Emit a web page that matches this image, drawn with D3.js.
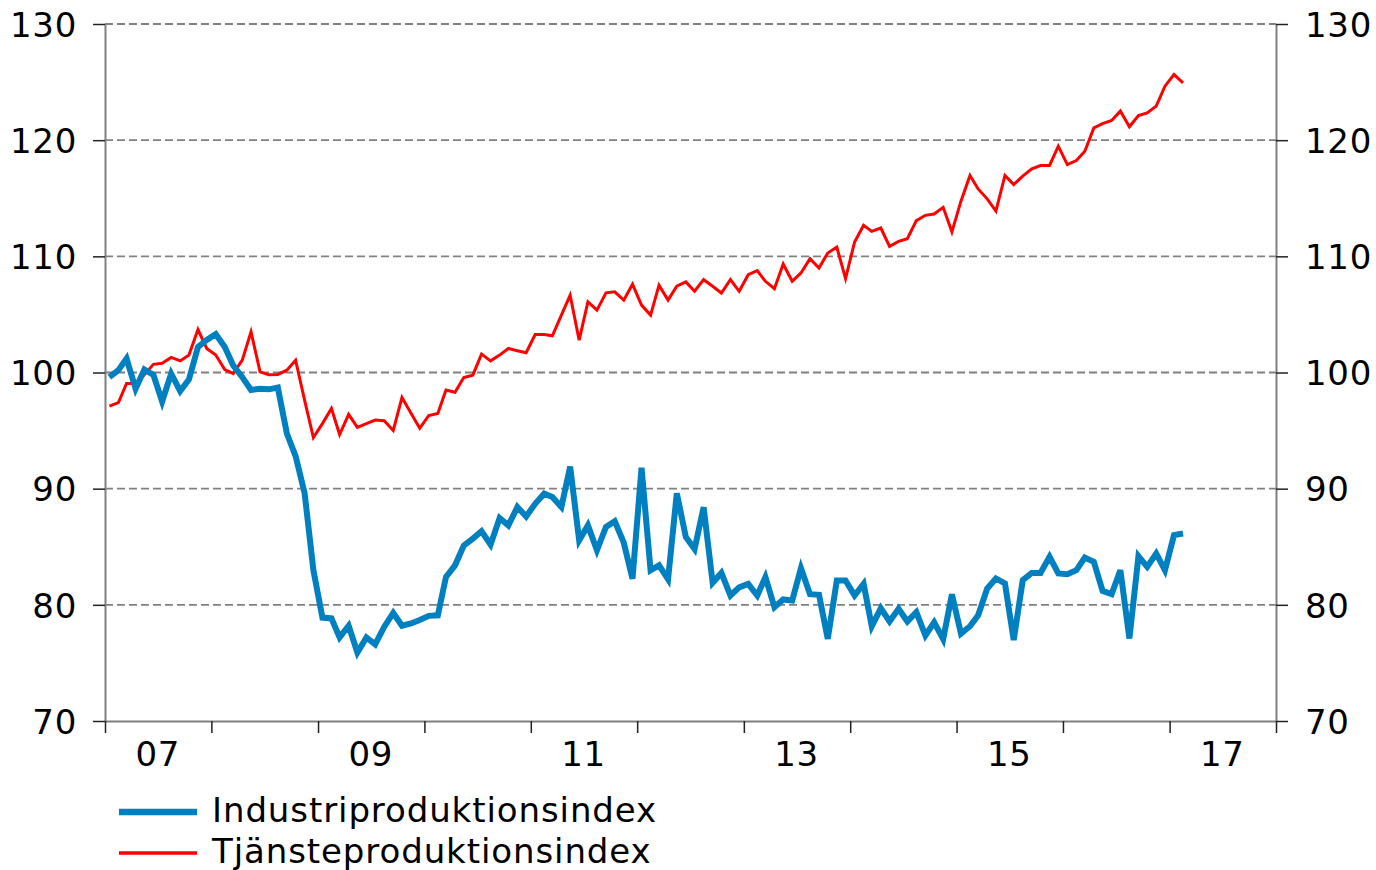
<!DOCTYPE html>
<html>
<head>
<meta charset="utf-8">
<script src="https://cdn.jsdelivr.net/npm/d3@7"></script>
<style>
  body { margin: 0; background: #fff; }
  svg { display: block; font-family: Verdana, "DejaVu Sans", sans-serif; }
</style>
</head>
<body>
<div id="chart"></div>
<script>
// monthly index values, Jan 2007 - Feb 2017
const industri = [
  99.6, 100.2, 101.2, 98.6, 100.26, 99.8, 97.5, 99.9, 98.4, 99.4, 102.2, 102.8,
  103.3, 102.2, 100.6, 99.6, 98.5, 98.6, 98.55, 98.7, 94.75, 92.8, 89.6, 83.0,
  78.9, 78.83, 77.2, 78.2, 75.9, 77.2, 76.6, 78.1, 79.3, 78.2, 78.4, 78.7,
  79.05, 79.1, 82.4, 83.4, 85.1, 85.7, 86.33, 85.18, 87.47, 86.84, 88.42, 87.6,
  88.7, 89.57, 89.28, 88.42, 91.9, 85.55, 86.84, 84.7, 86.7, 87.2, 85.35, 82.25,
  91.8, 82.97, 83.4, 82.2, 89.6, 85.84, 84.8, 88.4, 81.9, 82.75, 80.8, 81.5,
  81.8, 80.8, 82.38, 79.8, 80.46, 80.37, 83.16, 80.92, 80.86, 77.07, 82.1, 82.1,
  80.8, 81.8, 78.16, 79.7, 78.57, 79.66, 78.57, 79.37, 77.36, 78.5, 77.05, 80.9,
  77.53, 78.16, 79.1, 81.4, 82.27, 81.84, 76.96, 82.12, 82.75, 82.75, 84.13, 82.7,
  82.64, 82.98, 84.07, 83.7, 81.2, 80.92, 82.98, 77.1, 84.19, 83.27, 84.42, 82.98,
  86.0, 86.14
];
const tjanste = [
  97.1, 97.4, 99.05, 99.05, 99.8, 100.7, 100.8, 101.3, 101.0, 101.5, 103.7, 102.07,
  101.5, 100.26, 99.9, 101.06, 103.5, 100.06, 99.8, 99.83, 100.2, 101.06, 97.6, 94.4,
  95.6, 96.9, 94.66, 96.4, 95.27, 95.6, 95.9, 95.84, 95.0, 97.85, 96.5, 95.2,
  96.3, 96.47, 98.5, 98.3, 99.57, 99.77, 101.58, 101.0, 101.5, 102.07, 101.87, 101.7,
  103.27, 103.27, 103.16, 104.94, 106.66, 102.78, 106.08, 105.37, 106.86, 106.94, 106.23, 107.6,
  105.8, 104.94, 107.52, 106.23, 107.43, 107.8, 107.0, 107.99, 107.42, 106.84, 107.99, 106.99,
  108.42, 108.77, 107.85, 107.22, 109.34, 107.85, 108.57, 109.8, 109.0, 110.29, 110.8, 108.08,
  111.23, 112.67, 112.15, 112.44, 110.86, 111.29, 111.52, 113.07, 113.53, 113.64, 114.22, 112.1,
  114.75, 116.96, 115.8, 114.95, 113.9, 116.96, 116.18, 116.9, 117.53, 117.82, 117.82, 119.48,
  117.9, 118.25, 119.05, 121.06, 121.43, 121.69, 122.5, 121.15, 122.12, 122.35, 122.93, 124.65,
  125.65, 124.94
];
const months = d3.range(industri.length).map(i => new Date(2007, i, 16));
const yTicks = [70, 80, 90, 100, 110, 120, 130];
const gridTicks = [80, 90, 100, 110, 120, 130];
const yearLabels = ["07", "09", "11", "13", "15", "17"];
const seriesNames = ["Industriproduktionsindex", "Tjänsteproduktionsindex"];
const seriesColors = ["#0080c0", "#ff0000"];

const width = 1376,
    height = 870,
    plotLeft = 105,
    plotRight = 1276,
    plotTop = 24,
    plotBottom = 721;

const x = d3.scaleTime()
    .domain([new Date(2007, 0, 1), new Date(2018, 0, 1)])
    .range([plotLeft, plotRight]);
const y = d3.scaleLinear().domain([70, 130]).range([plotBottom, plotTop]);

const svg = d3.select("#chart")
    .append("svg")
    .attr("width", width)
    .attr("height", height);

// dashed gridlines
svg.append("g")
    .selectAll("line")
    .data(gridTicks)
    .join("line")
    .attr("x1", plotLeft)
    .attr("x2", plotRight)
    .attr("y1", d => y(d))
    .attr("y2", d => y(d))
    .attr("stroke", "#808080")
    .attr("stroke-width", 1.8)
    .attr("stroke-dasharray", "8,4");

const styleAxis = g => {
    g.select(".domain").attr("stroke", "#808080").attr("stroke-width", 2);
    g.selectAll(".tick line").attr("stroke", "#222").attr("stroke-width", 1.5);
    g.selectAll(".tick text").attr("font-size", 34).attr("fill", "#000")
        .attr("letter-spacing", 0.7)
        .attr("font-family", "Verdana, 'DejaVu Sans', sans-serif");
};

svg.append("g")
    .attr("transform", `translate(${plotLeft},0)`)
    .call(d3.axisLeft(y).tickValues(yTicks).tickSize(12).tickPadding(16).tickSizeOuter(0))
    .call(styleAxis)
    .selectAll(".tick text").attr("dy", "0.36em");

svg.append("g")
    .attr("transform", `translate(${plotRight},0)`)
    .call(d3.axisRight(y).tickValues(yTicks).tickSize(12).tickPadding(17).tickSizeOuter(0))
    .call(styleAxis)
    .selectAll(".tick text").attr("dy", "0.36em");

svg.append("g")
    .attr("transform", `translate(0,${plotBottom})`)
    .call(d3.axisBottom(x).ticks(d3.timeYear.every(1)).tickFormat("").tickSize(12).tickSizeOuter(0))
    .call(styleAxis);

// year labels sit in the middle of each labelled year
svg.append("g")
    .attr("font-size", 34)
    .attr("letter-spacing", 0.7)
    .attr("text-anchor", "middle")
    .selectAll("text")
    .data(yearLabels)
    .join("text")
    .attr("x", d => x(new Date(2000 + +d, 6, 1)))
    .attr("y", 766)
    .text(d => d);

const line = d3.line()
    .x((d, i) => x(months[i]))
    .y(d => y(d));

svg.append("path")
    .datum(tjanste)
    .attr("fill", "none")
    .attr("stroke", seriesColors[1])
    .attr("stroke-width", 3)
    .attr("stroke-linejoin", "miter")
    .attr("d", line);

svg.append("path")
    .datum(industri)
    .attr("fill", "none")
    .attr("stroke", seriesColors[0])
    .attr("stroke-width", 6)
    .attr("stroke-linejoin", "miter")
    .attr("d", line);

let legendG = svg.append("g")
    .attr("font-size", 34)
    .attr("letter-spacing", 0.9)
    .selectAll("g")
    .data(seriesNames)
    .join("g")
    .attr("transform", (d, i) => `translate(119,${812 + i * 41})`);

legendG.append("line")
    .attr("x1", 0)
    .attr("x2", 78)
    .attr("stroke", (d, i) => seriesColors[i])
    .attr("stroke-width", (d, i) => i ? 3.5 : 6.5);

legendG.append("text")
    .attr("x", 93)
    .attr("y", 10)
    .text(d => d);
</script>
</body>
</html>
